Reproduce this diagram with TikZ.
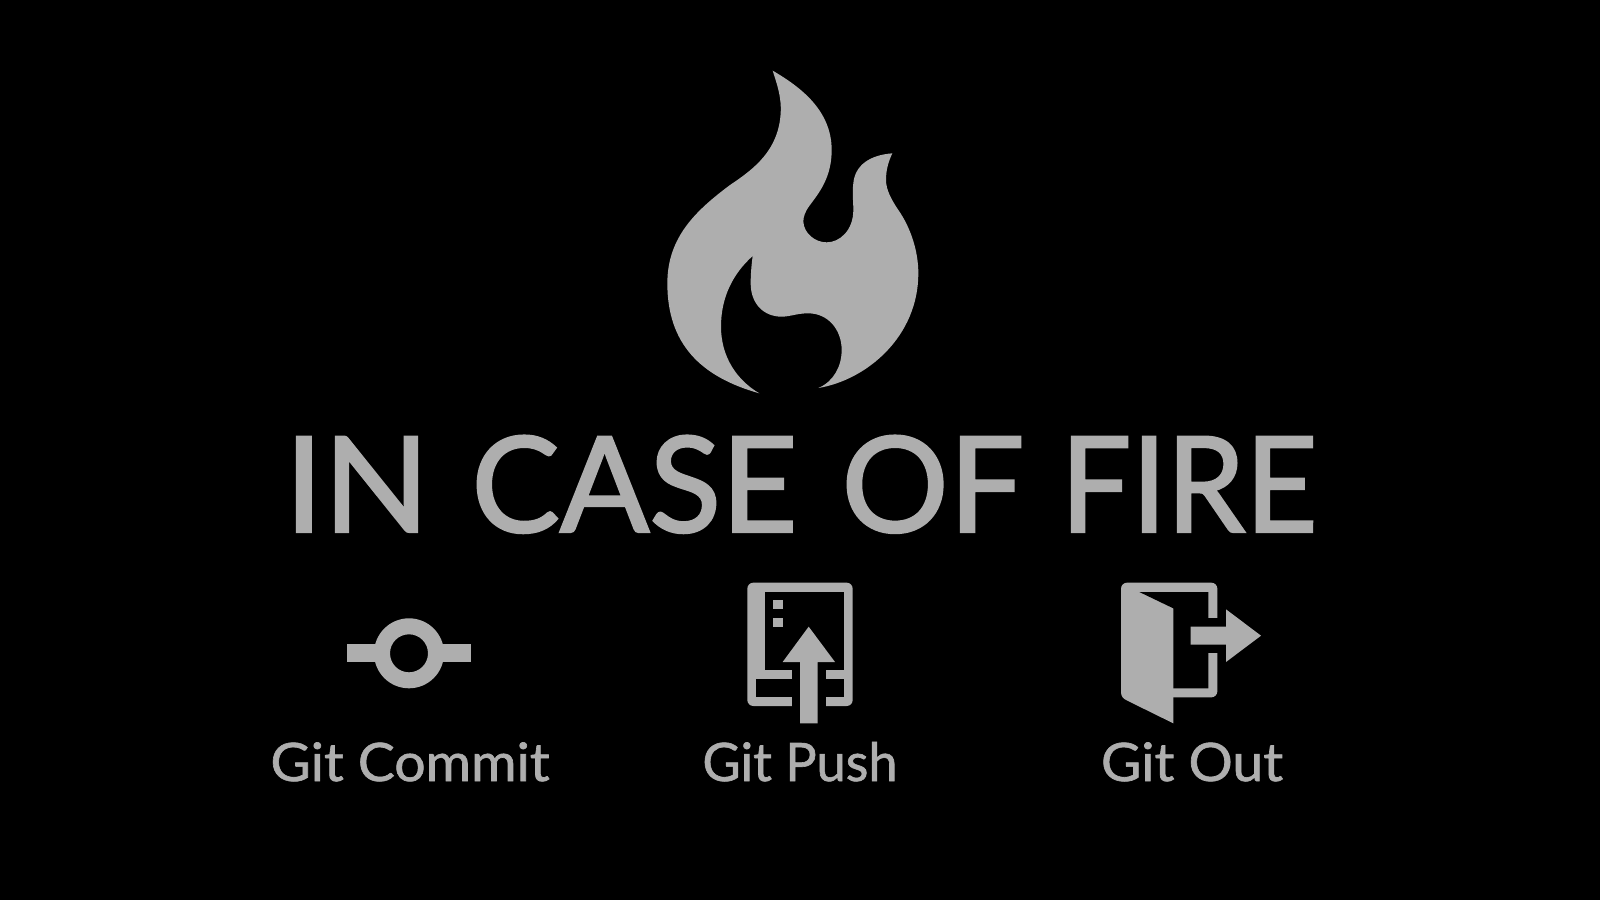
\documentclass[tikz,border=0pt]{standalone}
\usepackage{fontspec}
\setmainfont{Lato}
\newfontfamily\heavytitle{Lato}[FakeBold=1.8]
\newfontfamily\heavylabel{Lato}[FakeBold=1.2]
\definecolor{ink}{HTML}{AEAEAE}
\newcommand{\wordfit}[2]{\resizebox{#1pt}{\height}{#2}}
\tikzset{
  ink fill/.style={fill=ink,draw=none},
  cut fill/.style={fill=black,draw=none},
  zoomed/.style={x=0.33333pt,y=-0.33333pt},
  title text/.style={text=ink,inner sep=0pt,anchor=base,font=\heavytitle\fontsize{133}{133}\selectfont},
  label text/.style={text=ink,inner sep=0pt,anchor=base,font=\heavylabel\fontsize{53}{53}\selectfont}
}
\begin{document}
\begin{tikzpicture}[x=1pt,y=-1pt]
\useasboundingbox (0,0) rectangle (1600,900);
\fill[black] (0,0) rectangle (1600,900);
% flame
\begin{scope}[shift={(640,50)},zoomed]
\fill[ink fill] (398,62)
  .. controls (480,110) and (575,180) .. (575,300)
  .. controls (575,380) and (540,425) .. (510,465)
  .. controls (495,485) and (490,500) .. (490,515)
  .. controls (492,550) and (525,577) .. (560,577)
  .. controls (600,577) and (640,540) .. (640,480)
  .. controls (640,450) and (636,430) .. (640,400)
  .. controls (645,345) and (690,315) .. (757,310)
  .. controls (745,335) and (738,360) .. (738,390)
  .. controls (738,420) and (755,450) .. (775,480)
  .. controls (810,530) and (835,600) .. (835,670)
  .. controls (835,860) and (680,990) .. (535,1014)
  .. controls (580,995) and (605,950) .. (605,900)
  .. controls (605,840) and (565,790) .. (505,790)
  .. controls (470,790) and (450,800) .. (425,800)
  .. controls (370,800) and (332,760) .. (332,700)
  .. controls (332,670) and (335,640) .. (338,618)
  .. controls (280,670) and (243,740) .. (243,830)
  .. controls (243,920) and (290,990) .. (358,1030)
  .. controls (180,980) and (82,880) .. (82,700)
  .. controls (82,560) and (170,480) .. (270,405)
  .. controls (345,355) and (415,300) .. (422,190)
  .. controls (425,140) and (410,100) .. (398,62) -- cycle;
\end{scope}
% title
\node[title text] (title) at (801,532) {\wordfit{145}{IN}\hspace{42pt}\wordfit{326}{CASE}\hspace{44pt}\wordfit{183}{OF}\hspace{36pt}\wordfit{257}{FIRE}};
% commit icon
\coordinate (cc) at (409,653.3);
\fill[ink fill,even odd rule] (cc) circle[radius=35] (cc) circle[radius=19];
\fill[ink fill] (347,644) rectangle (377,662.3);
\fill[ink fill] (441,644) rectangle (470.7,662.3);
\node[label text] (commit) at (410,781) {\resizebox{279pt}{\height}{Git Commit}};
% push icon
\begin{scope}[shift={(690,570)},zoomed]
\fill[ink fill,rounded corners=6pt] (172,38) rectangle (488,408);
\fill[cut fill] (225,66) rectangle (462,300);
\fill[cut fill] (198,328) rectangle (462,380);
\fill[cut fill] (305,295) rectangle (408,412);
\fill[ink fill] (356,170) -- (435,276) -- (383,276) -- (383,460) -- (330,460) -- (330,276) -- (278,276) -- cycle;
\fill[ink fill] (250,90) rectangle (278,118);
\fill[ink fill] (250,143) rectangle (278,171);
\end{scope}
\node[label text] (push) at (800,781) {\resizebox{195pt}{\height}{Git Push}};
% out icon
\begin{scope}[shift={(1090,570)},zoomed]
\fill[ink fill,rounded corners=6pt] (93,38) rectangle (382,382);
\fill[ink fill] (93,300) -- (93,365) .. controls (93,380) and (100,386) .. (110,391) -- (250,460) -- (250,300) -- cycle;
\fill[cut fill] (148,66) -- (355,66) -- (355,355) -- (250,355) -- (250,115) -- cycle;
\fill[cut fill] (350,145) rectangle (386,250);
\fill[ink fill] (302,170) -- (408,170) -- (408,118) -- (513,197) -- (408,276) -- (408,224) -- (302,224) -- cycle;
\end{scope}
\node[label text] (out) at (1192,781) {\resizebox{182pt}{\height}{Git Out}};
\end{tikzpicture}
\end{document}
